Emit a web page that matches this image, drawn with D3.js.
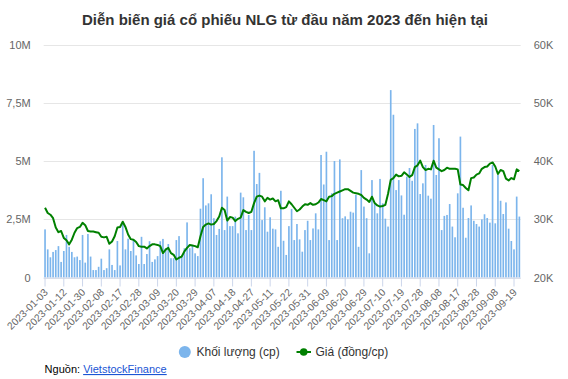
<!DOCTYPE html>
<html>
<head>
<meta charset="utf-8">
<script src="https://cdn.jsdelivr.net/npm/d3@7"></script>
<style>
  html, body { margin: 0; padding: 0; background: #fff; }
  svg { display: block; font-family: "Liberation Sans", Arial, sans-serif; }
</style>
</head>
<body>
<svg id="chart" width="568" height="379"></svg>
<script>
// ---- DATA ----
const title = "Diễn biến giá cổ phiếu NLG từ đầu năm 2023 đến hiện tại";
const firstDay = "2023-01-03";
const lastDay = "2023-09-21";
const holidays = ["2023-01-20","2023-01-23","2023-01-24","2023-01-25","2023-01-26",
  "2023-05-01","2023-05-02","2023-05-03","2023-09-01","2023-09-04"];

// Trading volume (millions of shares), one per trading day
const volumeM = [
  2.07,1.21,0.87,1.10,1.18,1.35,0.67,1.14,1.83,1.32,
  1.10,0.87,0.90,0.75,1.83,0.64,1.87,0.90,0.32,0.32,
  0.46,0.81,0.32,0.40,1.21,0.54,0.32,1.57,0.52,2.39,
  1.21,1.67,1.14,1.61,0.95,0.58,1.75,0.58,1.01,1.56,
  0.67,0.78,0.92,1.56,1.66,1.26,1.44,0.83,0.83,1.61,
  1.78,0.90,1.26,2.37,1.26,1.35,1.04,0.92,2.96,4.27,
  3.10,3.19,3.58,2.55,1.83,2.09,5.17,2.04,3.48,2.21,
  2.21,2.62,1.90,3.65,3.45,2.04,2.69,2.04,5.45,4.02,
  4.50,2.47,3.02,1.97,2.59,2.10,2.07,1.32,3.73,1.58,
  0.97,2.21,2.95,1.61,2.30,1.64,1.11,2.04,2.44,1.61,
  2.11,2.76,2.07,5.27,4.00,5.41,1.61,3.62,5.01,1.61,
  5.08,2.55,2.63,2.50,2.83,2.79,3.55,1.32,4.62,3.05,
  2.55,1.04,4.19,3.16,2.76,4.24,3.19,2.53,2.19,8.06,
  7.00,3.76,4.19,3.53,2.70,4.34,4.71,4.16,6.39,6.63,
  3.59,4.05,4.84,3.52,3.39,6.56,4.41,5.99,2.04,2.65,
  2.69,3.16,2.19,1.73,3.62,6.06,3.00,1.71,2.56,3.10,
  2.44,2.30,2.19,2.50,2.72,2.56,2.36,4.84,2.33,4.41,
  3.30,2.73,3.23,2.10,1.57,1.21,3.48,2.62
];

// Closing price (thousand VND per share), one per trading day
const priceK = [
  32.0,31.1,30.8,30.2,28.6,27.8,28.0,26.8,26.4,25.7,
  26.5,27.7,28.5,28.7,29.4,29.0,28.0,27.9,27.9,27.8,
  27.7,27.0,26.9,27.0,25.8,26.2,27.1,28.6,28.7,29.6,
  28.7,27.4,26.6,26.5,26.1,25.4,25.3,25.3,25.0,25.4,
  25.7,25.7,25.6,25.4,24.2,24.8,25.1,24.2,23.9,23.1,
  23.4,23.6,24.5,25.1,25.6,25.5,25.4,25.2,27.1,28.7,
  29.1,29.3,29.1,29.2,29.7,30.5,32.0,31.6,29.8,30.4,
  30.3,29.7,30.1,30.3,31.6,31.3,31.1,31.3,32.8,33.9,
  34.1,33.9,33.1,33.7,33.4,33.6,33.1,33.3,31.9,31.9,
  32.1,33.1,32.6,32.0,31.4,31.7,32.2,32.6,32.5,32.8,
  32.5,32.6,32.9,33.5,33.3,33.1,33.9,34.0,34.4,34.6,
  34.8,35.0,35.2,35.2,34.9,34.6,34.5,34.4,34.2,33.7,
  33.4,33.0,33.9,32.8,32.4,32.2,32.3,32.5,34.4,36.8,
  37.1,37.7,37.4,37.5,38.1,37.7,37.3,37.6,39.0,39.3,
  40.1,39.0,38.5,38.7,38.6,40.1,38.9,38.6,38.3,38.5,
  38.9,38.7,38.7,38.7,38.6,36.0,35.9,35.4,35.0,37.1,
  37.2,37.7,37.9,38.7,39.0,39.1,39.6,39.8,39.1,37.8,
  38.5,38.3,37.0,36.7,37.1,36.9,38.6,38.3
];

const leftTicks = [0, 2.5e6, 5e6, 7.5e6, 10e6];
const leftTickLabels = ["0", "2,5M", "5M", "7,5M", "10M"];
const rightTicks = [20000, 30000, 40000, 50000, 60000];
const rightTickLabels = ["20K", "30K", "40K", "50K", "60K"];
const tickEvery = 7;
const legendLabels = ["Khối lượng (cp)", "Giá (đồng/cp)"];
const sourcePrefix = "Nguồn: ";
const sourceName = "VietstockFinance";

// ---- trading-day categories ----
const fmt = d3.utcFormat("%Y-%m-%d");
const parse = d3.utcParse("%Y-%m-%d");
const dates = d3.utcDays(parse(firstDay), d3.utcDay.offset(parse(lastDay), 1))
  .filter(d => d.getUTCDay() !== 0 && d.getUTCDay() !== 6)
  .map(fmt)
  .filter(s => !holidays.includes(s));

const n = Math.min(dates.length, volumeM.length, priceK.length);
const data = d3.range(n).map(i => ({ date: dates[i], vol: volumeM[i] * 1e6, price: priceK[i] * 1000 }));
const tickDates = dates.filter((d, i) => i % tickEvery === 0 && i < n);

// ---- layout ----
const svg = d3.select("#chart");
const plot = { left: 43.7, right: 520.7, top: 45, bottom: 277.5 };

const x = d3.scaleBand().domain(data.map(d => d.date)).range([plot.left, plot.right]).paddingInner(0.38).paddingOuter(0.19);
const yL = d3.scaleLinear().domain([0, 10e6]).range([plot.bottom, plot.top]);
const yR = d3.scaleLinear().domain([20000, 60000]).range([plot.bottom, plot.top]);

// title
svg.append("text").attr("x", 285).attr("y", 25).attr("text-anchor", "middle")
  .attr("font-size", 15).attr("font-weight", "bold").attr("fill", "#333").text(title);

// gridlines
svg.append("g").selectAll("line").data(leftTicks).join("line")
  .attr("x1", plot.left).attr("x2", plot.right)
  .attr("y1", d => Math.round(yL(d)) + 0.5).attr("y2", d => Math.round(yL(d)) + 0.5)
  .attr("stroke", "#e6e6e6").attr("stroke-width", 1);

// left axis labels
const gL = svg.append("g").attr("transform", `translate(${plot.left},0)`)
  .call(d3.axisLeft(yL).tickValues(leftTicks).tickFormat((d, i) => leftTickLabels[i]).tickSize(0).tickPadding(13));
gL.select(".domain").remove();
gL.selectAll("text").attr("font-size", 11).attr("fill", "#666").attr("font-family", "Liberation Sans, Arial, sans-serif");

// right axis labels
const gR = svg.append("g").attr("transform", `translate(${plot.right},0)`)
  .call(d3.axisRight(yR).tickValues(rightTicks).tickFormat((d, i) => rightTickLabels[i]).tickSize(0).tickPadding(13));
gR.select(".domain").remove();
gR.selectAll("text").attr("font-size", 11).attr("fill", "#666").attr("font-family", "Liberation Sans, Arial, sans-serif");

// bars
svg.append("g").selectAll("rect").data(data).join("rect")
  .attr("x", d => x(d.date)).attr("width", x.bandwidth())
  .attr("y", d => yL(d.vol)).attr("height", d => plot.bottom - yL(d.vol))
  .attr("fill", "#7cb5ec");

// x axis
const gX = svg.append("g").attr("transform", `translate(0,${plot.bottom})`)
  .call(d3.axisBottom(x).tickValues(tickDates).tickSize(9).tickPadding(4));
gX.select(".domain").attr("stroke", "#ccd6eb").attr("d", `M${plot.left},0.5H${plot.right}`);
gX.selectAll(".tick line").attr("stroke", "#ccd6eb");
gX.selectAll(".tick text")
  .attr("font-size", 10.3).attr("fill", "#666").attr("font-family", "Liberation Sans, Arial, sans-serif")
  .attr("text-anchor", "end").attr("x", 0).attr("y", 0).attr("dx", 0).attr("dy", "0.35em")
  .attr("transform", "translate(1,13) rotate(-45)");

// price line
const line = d3.line().x(d => x(d.date) + x.bandwidth() / 2).y(d => yR(d.price)).curve(d3.curveLinear);
svg.append("path").datum(data).attr("d", line)
  .attr("fill", "none").attr("stroke", "#008000").attr("stroke-width", 2).attr("stroke-linejoin", "round");

// legend
const lg = svg.append("g").attr("font-size", 12).attr("fill", "#333");
lg.append("circle").attr("cx", 184.8).attr("cy", 352).attr("r", 6).attr("fill", "#7cb5ec");
lg.append("text").attr("x", 196.5).attr("y", 356).attr("fill", "#333").text(legendLabels[0]);
lg.append("line").attr("x1", 296.5).attr("x2", 311).attr("y1", 352).attr("y2", 352).attr("stroke", "#008000").attr("stroke-width", 2);
lg.append("circle").attr("cx", 303.7).attr("cy", 352).attr("r", 3.8).attr("fill", "#008000");
lg.append("text").attr("x", 315.5).attr("y", 356).attr("fill", "#333").text(legendLabels[1]);

// source
const src = svg.append("text").attr("x", 44.6).attr("y", 373).attr("font-size", 11).attr("fill", "#000");
src.append("tspan").text(sourcePrefix);
src.append("tspan").attr("fill", "#1a55d4").attr("text-decoration", "underline").text(sourceName);
</script>
</body>
</html>
